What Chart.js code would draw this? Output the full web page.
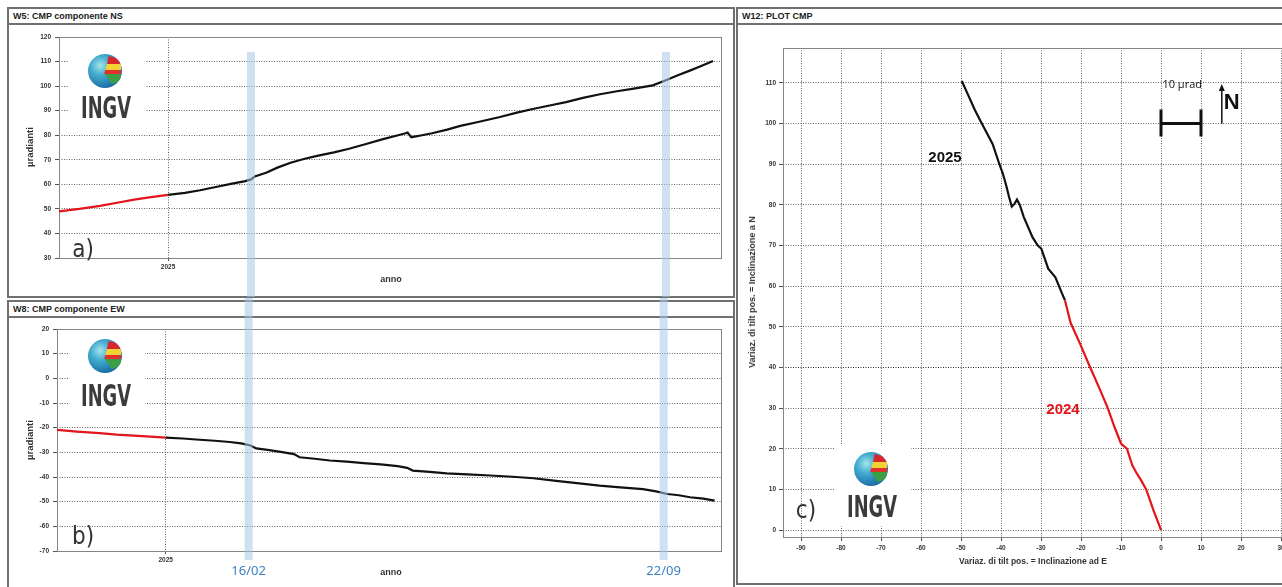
<!DOCTYPE html>
<html lang="it">
<head>
<meta charset="utf-8">
<title>CMP - componenti NS / EW e plot</title>
<script src="https://cdn.jsdelivr.net/npm/chart.js@4.4.1/dist/chart.umd.min.js"></script>
<style>
  html, body { margin: 0; padding: 0; background: #fff; }
  body {
    width: 1282px; height: 587px; overflow: hidden; position: relative;
    font-family: "Liberation Sans", Arial, sans-serif; color: #222;
  }
  .panel { position: absolute; border: 2px solid #707070; box-sizing: border-box; background: #fff; z-index: 1; }
  .panel .head {
    position: absolute; left: 0; right: 0; top: 0; height: 14px;
    border-bottom: 2px solid #707070; font-weight: bold; font-size: 9px;
    line-height: 14px; padding-left: 4px; color: #222; background: #fff;
  }
  canvas { position: absolute; z-index: 2; }
  .over { position: absolute; z-index: 3; white-space: nowrap; }
  .ytitle { font-weight: bold; font-size: 9.5px; color: #333; transform: translate(-50%, -50%) rotate(-90deg); }
  .xtitle { font-weight: bold; font-size: 9px; color: #333; transform: translate(-50%, -50%); }
  .tag { font-family: "Liberation Sans Narrow", "DejaVu Sans Condensed", sans-serif; font-size: 24px; color: #333; transform: translate(-50%, -50%); }
  .wbox { position: absolute; z-index: 3; background: #fff; }
  .globe {
    position: absolute; z-index: 4; width: 34px; height: 34px; border-radius: 50%; overflow: hidden;
    background: radial-gradient(circle at 36% 34%, #a6e4ea 0%, #45aed0 30%, #1f76ab 68%, #164f80 100%);
  }
  .globe::after {
    content: ''; position: absolute; left: 48%; top: 6%; width: 50%; height: 82%;
    background: linear-gradient(180deg, #d9262c 0 28%, #f3d233 28% 50%, #e0312d 50% 66%, #3c9f45 66% 100%);
    clip-path: polygon(25% 0, 100% 12%, 100% 88%, 45% 100%, 0 62%, 15% 30%);
  }
  .ingv {
    position: absolute; z-index: 4; width: 100px; text-align: center;
    font-family: "Liberation Sans Narrow", "DejaVu Sans Condensed", sans-serif;
    font-weight: bold; font-size: 30px; line-height: 30px; color: #3b3b3b;
    transform: scaleX(0.66);
  }
</style>
</head>
<body>

<div class="panel" style="left:7px;top:7px;width:728px;height:291px;"><div class="head">W5: CMP componente NS</div></div>
<div class="panel" style="left:7px;top:300px;width:728px;height:300px;"><div class="head">W8: CMP componente EW</div></div>
<div class="panel" style="left:736px;top:7px;width:600px;height:578px;"><div class="head">W12: PLOT CMP</div></div>

<canvas id="chart-ns" width="726" height="272" style="left:8px;top:25px;"></canvas>
<canvas id="chart-ew" width="726" height="289" style="left:8px;top:298px;"></canvas>
<canvas id="chart-plot" width="557" height="558" style="left:738px;top:25px;"></canvas>

<!-- titoli assi -->
<div class="over ytitle" style="left:29px;top:147px;">µradianti</div>
<div class="over xtitle" style="left:391px;top:279px;">anno</div>
<div class="over ytitle" style="left:29px;top:440px;">µradianti</div>
<div class="over xtitle" style="left:391px;top:572px;">anno</div>
<div class="over ytitle" style="left:752px;top:292px;font-size:9px;">Variaz. di tilt pos. = Inclinazione a N</div>
<div class="over xtitle" style="left:1033px;top:561px;font-size:8.5px;">Variaz. di tilt pos. = Inclinazione ad E</div>

<!-- loghi -->
<div class="wbox" style="left:68px;top:45px;width:77px;height:83px;"></div>
<div class="globe" style="left:88px;top:54px;"></div>
<div class="ingv" style="left:56px;top:93px;">INGV</div>
<div class="over tag" style="left:83px;top:249px;">a)</div>

<div class="wbox" style="left:68px;top:333px;width:77px;height:82px;"></div>
<div class="globe" style="left:88px;top:339px;"></div>
<div class="ingv" style="left:56px;top:381px;">INGV</div>
<div class="over tag" style="left:83px;top:536px;">b)</div>

<div class="wbox" style="left:834px;top:444px;width:77px;height:82px;"></div>
<div class="globe" style="left:854px;top:452px;"></div>
<div class="ingv" style="left:822px;top:492px;">INGV</div>
<div class="over tag" style="left:806px;top:510px;">c)</div>

<script>
'use strict';

// --- W5: componente NS (giorni dal 01/01/2025, µrad) ---
const NS_2024_DAYS   = [-58, -47, -36, -27, -18, -9, 0];
const NS_2024_VALUES = [49.0, 50.0, 51.2, 52.5, 53.8, 54.8, 55.7];
const NS_2025_DAYS   = [0, 9, 17, 26, 34, 41, 44, 46, 52, 58, 65, 72, 79, 88, 96, 105, 114, 121, 126, 127,
                        129, 134, 140, 148, 155, 165, 176, 185, 194, 203, 211, 220, 229, 238, 247, 257, 264,
                        270, 277, 283, 289];
const NS_2025_VALUES = [55.7, 56.5, 57.6, 59.0, 60.3, 61.3, 62.0, 63.2, 64.7, 66.8, 68.8, 70.3, 71.6, 73.0,
                        74.5, 76.4, 78.4, 79.8, 80.8, 81.1, 79.2, 79.9, 80.8, 82.3, 83.8, 85.5, 87.4, 89.2,
                        90.8, 92.2, 93.5, 95.2, 96.7, 97.9, 99.0, 100.3, 102.4, 104.3, 106.4, 108.3, 110.2];

// --- W8: componente EW ---
const EW_2024_DAYS   = [-58, -47, -35, -26, -17, -8, 0];
const EW_2024_VALUES = [-20.9, -21.6, -22.2, -22.8, -23.2, -23.6, -24.0];
const EW_2025_DAYS   = [0, 9, 18, 26, 34, 40, 45, 48, 54, 61, 68, 71, 79, 87, 96, 105, 114, 123, 128, 131,
                        140, 149, 160, 172, 184, 195, 207, 218, 230, 241, 253, 260, 266, 272, 278, 285, 291];
const EW_2025_VALUES = [-24.0, -24.4, -24.9, -25.3, -25.8, -26.4, -27.2, -28.4, -29.0, -29.8, -30.7, -32.0,
                        -32.6, -33.3, -33.8, -34.4, -34.9, -35.6, -36.3, -37.4, -37.9, -38.5, -38.9, -39.4,
                        -39.9, -40.5, -41.6, -42.5, -43.5, -44.2, -44.9, -45.8, -46.9, -47.4, -48.2, -48.8, -49.6];

// --- W12: plot CMP (E, N) ---
const TILT_2024_E = [0, -0.6, -1.9, -3.7, -5.0, -6.1, -7.2, -8.5, -10.0, -11.6, -13.3, -15.5, -17.7, -20.3, -22.6, -24.0];
const TILT_2024_N = [0, 1.6, 4.9, 10.0, 12.3, 14.0, 16.0, 20.0, 21.3, 25.3, 30.0, 35.1, 40.0, 46.0, 51.0, 56.5];
const TILT_2025_E = [-24.0, -24.7, -26.4, -28.2, -29.9, -30.8, -32.1, -34.3, -35.3, -36.0, -36.6, -37.3, -38.0,
                     -38.6, -39.5, -40.4, -42.1, -44.8, -46.5, -48.2, -49.8];
const TILT_2025_N = [56.5, 58.1, 62.2, 64.3, 69.2, 70.0, 72.0, 77.0, 80.0, 81.3, 80.3, 79.6, 82.0,
                     84.4, 87.6, 90.0, 95.0, 100.0, 103.3, 107.0, 110.5];

// assi / etichette
const YEAR_TICKS      = [0];
const YEAR_LABELS     = ['2025'];
const NS_TICKS        = [30, 40, 50, 60, 70, 80, 90, 100, 110, 120];
const EW_TICKS        = [-70, -60, -50, -40, -30, -20, -10, 0, 10, 20];
const PLOT_E_TICKS    = [-90, -80, -70, -60, -50, -40, -30, -20, -10, 0, 10, 20, 30];
const PLOT_N_TICKS    = [0, 10, 20, 30, 40, 50, 60, 70, 80, 90, 100, 110];
const EVENT_DAYS      = [44, 264];
const EVENT_LABELS    = ['16/02', '22/09'];

const BLACK = '#111';
const RED   = '#e3141b';
const GRID  = 'rgba(60,60,60,0.8)';
const FRAME = '#858585';
const BAND  = 'rgba(165,198,232,0.55)';
const FONT  = '"Liberation Sans", Arial, sans-serif';
const DASH  = [1, 1.5];

Chart.defaults.font.family = FONT;
Chart.defaults.animation = false;

function pts(xs, ys) {
  return xs.map((x, i) => ({ x: x, y: ys[i] }));
}

function fixTicks(list) {
  return scale => { scale.ticks = list.map(v => ({ value: v })); };
}

const TICK_FONT = { family: FONT, size: 6.5, weight: 'bold' };

const framePlugin = {
  id: 'frame',
  beforeDatasetsDraw(chart) {
    const a = chart.chartArea, ctx = chart.ctx;
    ctx.save();
    ctx.strokeStyle = FRAME;
    ctx.lineWidth = 1;
    ctx.strokeRect(a.left + 0.5, a.top + 0.5, a.right - a.left, a.bottom - a.top);
    ctx.restore();
  },
};

function bandPlugin(top, bottom, labelY) {
  return {
    id: 'bands',
    afterDatasetsDraw(chart) {
      const ctx = chart.ctx, x = chart.scales.x;
      ctx.save();
      ctx.fillStyle = BAND;
      EVENT_DAYS.forEach(d => {
        const px = x.getPixelForValue(d);
        ctx.fillRect(px - 4, top, 8, (bottom === null ? chart.height : bottom) - top);
      });
      if (labelY !== null) {
        ctx.fillStyle = '#3f82c3';
        ctx.font = '13px "Noto Sans", "Open Sans", sans-serif';
        ctx.textAlign = 'center';
        ctx.textBaseline = 'middle';
        EVENT_DAYS.forEach((d, i) => ctx.fillText(EVENT_LABELS[i], x.getPixelForValue(d), labelY));
      }
      ctx.restore();
    },
  };
}

function timeChart(id, d24, v24, d25, v25, yMin, yMax, yTicks, xMin, xMax, yWidth, xHeight, padTop, band) {
  return new Chart(document.getElementById(id), {
    type: 'line',
    data: {
      datasets: [
        { label: '2024', data: pts(d24, v24), borderColor: RED, borderWidth: 2.2, pointRadius: 0 },
        { label: '2025', data: pts(d25, v25), borderColor: BLACK, borderWidth: 2.2, pointRadius: 0 },
      ],
    },
    options: {
      responsive: false,
      layout: { padding: { top: padTop, right: 13, left: 0, bottom: 0 } },
      plugins: { legend: { display: false }, tooltip: { enabled: false } },
      scales: {
        x: {
          type: 'linear', min: xMin, max: xMax,
          afterBuildTicks: fixTicks(YEAR_TICKS),
          afterFit: s => { s.height = xHeight; },
          ticks: { font: TICK_FONT, color: '#333', padding: 2, maxRotation: 0,
                   callback: (v, i) => YEAR_LABELS[i] },
          grid: { color: GRID, tickColor: '#555', tickLength: 3 },
          border: { display: false, dash: DASH },
        },
        y: {
          min: yMin, max: yMax,
          afterBuildTicks: fixTicks(yTicks),
          afterFit: s => { s.width = yWidth; },
          ticks: { font: TICK_FONT, color: '#333', padding: 4, callback: v => String(v) },
          grid: { color: GRID, tickColor: '#555', tickLength: 4 },
          border: { display: false, dash: DASH },
        },
      },
    },
    plugins: [framePlugin, band],
  });
}

const hodoNotes = {
  id: 'hodoNotes',
  afterDatasetsDraw(chart) {
    const ctx = chart.ctx, x = chart.scales.x, y = chart.scales.y;
    ctx.save();
    ctx.textAlign = 'center';
    ctx.textBaseline = 'middle';
    ctx.font = 'bold 15px ' + FONT;
    ctx.fillStyle = BLACK;
    ctx.fillText('2025', x.getPixelForValue(-54), y.getPixelForValue(91.5));
    ctx.fillStyle = RED;
    ctx.fillText('2024', x.getPixelForValue(-24.5), y.getPixelForValue(29.5));

    // scala 10 µrad
    const x0 = x.getPixelForValue(0), x1 = x.getPixelForValue(10), yb = y.getPixelForValue(100);
    ctx.strokeStyle = BLACK;
    ctx.lineWidth = 3;
    ctx.beginPath();
    ctx.moveTo(x0, yb); ctx.lineTo(x1, yb);
    ctx.moveTo(x0, yb - 14); ctx.lineTo(x0, yb + 13);
    ctx.moveTo(x1, yb - 14); ctx.lineTo(x1, yb + 13);
    ctx.stroke();
    ctx.fillStyle = BLACK;
    ctx.font = '11px "Open Sans", sans-serif';
    ctx.fillText('10 µrad', x.getPixelForValue(5.3), y.getPixelForValue(109.5));

    // freccia N
    const xa = x.getPixelForValue(15.2), ya0 = y.getPixelForValue(100), ya1 = y.getPixelForValue(109.5);
    ctx.lineWidth = 1.5;
    ctx.beginPath();
    ctx.moveTo(xa, ya0); ctx.lineTo(xa, ya1 + 4);
    ctx.stroke();
    ctx.beginPath();
    ctx.moveTo(xa, ya1 - 1); ctx.lineTo(xa - 3, ya1 + 6); ctx.lineTo(xa + 3, ya1 + 6);
    ctx.closePath(); ctx.fill();
    ctx.font = 'bold 22px ' + FONT;
    ctx.textAlign = 'left';
    ctx.fillText('N', xa + 2, y.getPixelForValue(105));
    ctx.restore();
  },
};

function buildPlot() {
  new Chart(document.getElementById('chart-plot'), {
    type: 'line',
    data: {
      datasets: [
        { label: '2024', data: pts(TILT_2024_E, TILT_2024_N), borderColor: RED, borderWidth: 2.2, pointRadius: 0 },
        { label: '2025', data: pts(TILT_2025_E, TILT_2025_N), borderColor: BLACK, borderWidth: 2.2, pointRadius: 0 },
      ],
    },
    options: {
      responsive: false,
      layout: { padding: { top: 23, right: 4, left: 0, bottom: 0 } },
      plugins: { legend: { display: false }, tooltip: { enabled: false } },
      scales: {
        x: {
          type: 'linear', min: -94.5, max: 32.5,
          afterBuildTicks: fixTicks(PLOT_E_TICKS),
          afterFit: s => { s.height = 46; },
          ticks: { font: TICK_FONT, color: '#333', padding: 3, maxRotation: 0, autoSkip: false,
                   callback: v => String(v) },
          grid: { color: GRID, tickColor: '#555', tickLength: 4 },
          border: { display: false, dash: DASH },
        },
        y: {
          min: -1.7, max: 118.6,
          afterBuildTicks: fixTicks(PLOT_N_TICKS),
          afterFit: s => { s.width = 45; },
          ticks: { font: TICK_FONT, color: '#333', padding: 3, callback: v => String(v) },
          grid: { color: c => (c.tick && c.tick.value === 40 ? '#222' : GRID), tickColor: '#555', tickLength: 4 },
          border: { display: false, dash: DASH },
        },
      },
    },
    plugins: [framePlugin, hodoNotes],
  });
}

timeChart('chart-ns', NS_2024_DAYS, NS_2024_VALUES, NS_2025_DAYS, NS_2025_VALUES,
          30, 120, NS_TICKS, -57.8, 293.2, 51, 39, 12, bandPlugin(27, null, null));
timeChart('chart-ew', EW_2024_DAYS, EW_2024_VALUES, EW_2025_DAYS, EW_2025_VALUES,
          -70, 20, EW_TICKS, -57.6, 294.4, 49, 36, 31, bandPlugin(0, 262, 273));
buildPlot();
</script>
</body>
</html>
